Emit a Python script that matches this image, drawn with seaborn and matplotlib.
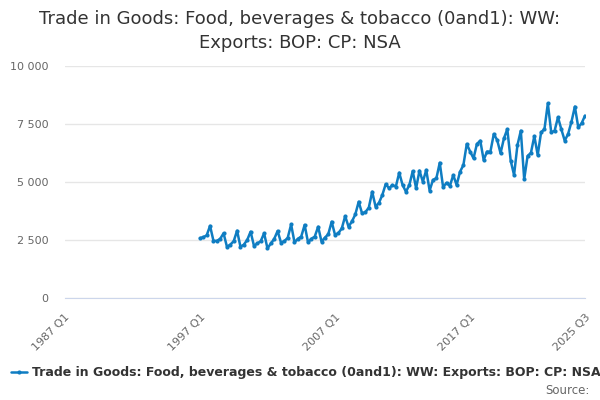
import pandas as pd
import matplotlib
matplotlib.use("Agg")
import matplotlib.pyplot as plt
import seaborn as sns

# quarterly values, 1997 Q1 .. 2025 Q3 (GBP million)
v1997 = [2580, 2620, 2700, 3110]
v1998 = [2470, 2460, 2550, 2790]
v1999 = [2210, 2300, 2450, 2900]
v2000 = [2210, 2300, 2500, 2860]
v2001 = [2250, 2350, 2450, 2790]
v2002 = [2140, 2350, 2550, 2890]
v2003 = [2390, 2450, 2600, 3170]
v2004 = [2400, 2550, 2650, 3150]
v2005 = [2400, 2550, 2650, 3070]
v2006 = [2430, 2600, 2750, 3290]
v2007 = [2720, 2800, 3000, 3530]
v2008 = [3070, 3300, 3600, 4150]
v2009 = [3650, 3700, 3900, 4580]
v2010 = [3940, 4100, 4440, 4910]
v2011 = [4730, 4870, 4800, 5400]
v2012 = [4870, 4580, 4870, 5470]
v2013 = [4730, 5490, 5010, 5520]
v2014 = [4630, 5090, 5160, 5830]
v2015 = [4770, 4970, 4830, 5300]
v2016 = [4870, 5440, 5730, 6640]
v2017 = [6310, 6020, 6640, 6780]
v2018 = [5950, 6310, 6310, 7070]
v2019 = [6810, 6240, 6880, 7280]
v2020 = [5920, 5300, 6590, 7210]
v2021 = [5120, 6120, 6260, 6980]
v2022 = [6160, 7140, 7280, 8390]
v2023 = [7140, 7210, 7790, 7270]
v2024 = [6780, 7070, 7600, 8250]
v2025 = [7360, 7530, 7860]

values = (v1997 + v1998 + v1999 + v2000 + v2001 + v2002 + v2003 + v2004 + v2005
          + v2006 + v2007 + v2008 + v2009 + v2010 + v2011 + v2012 + v2013 + v2014
          + v2015 + v2016 + v2017 + v2018 + v2019 + v2020 + v2021 + v2022 + v2023
          + v2024 + v2025)

series_name = "Trade in Goods: Food, beverages & tobacco (0and1): WW: Exports: BOP: CP: NSA"
title = "Trade in Goods: Food, beverages & tobacco (0and1): WW:\nExports: BOP: CP: NSA"

# quarter index relative to 1997 Q1
df = pd.DataFrame({"q": range(len(values)), "value": values, "series": series_name})

sns.set_style("white")
plt.rcParams["font.family"] = ["DejaVu Sans"]

fig = plt.figure(figsize=(6, 4), dpi=100)
ax = fig.add_axes([0.108, 0.255, 0.867, 0.58])

blue = "#0f7dc2"
sns.lineplot(data=df, x="q", y="value", hue="series", palette=[blue],
             marker="o", markersize=3, markeredgewidth=0, linewidth=1.8, ax=ax)

ax.set_xlim(-40, 114)
ax.set_ylim(0, 10000)

ax.set_yticks([0, 2500, 5000, 7500, 10000])
ax.set_yticklabels(["0", "2 500", "5 000", "7 500", "10 000"], color="#666666", fontsize=8)
ax.grid(axis="y", color="#e6e6e6", linewidth=1)
ax.tick_params(axis="y", length=0, pad=12)

xt = list(range(-40, 101, 10)) + [114]
xl = []
for t in xt:
    if t == 114:
        xl.append("2025 Q3")
    elif t % 40 == 0:
        xl.append(f"{1997 + t // 4} Q1")
    else:
        xl.append("")
ax.set_xticks(xt)
ax.set_xticklabels(xl, rotation=45, ha="right", rotation_mode="anchor",
                   color="#666666", fontsize=8)
ax.tick_params(axis="x", length=8, color="#ccd6eb", pad=2)

for s in ["top", "right", "left"]:
    ax.spines[s].set_visible(False)
ax.spines["bottom"].set_color("#ccd6eb")
ax.set_xlabel("")
ax.set_ylabel("")

ax.legend_.remove()
handles, labels = ax.get_legend_handles_labels()
fig.legend(handles, labels, loc="center", bbox_to_anchor=(0.51, 0.068), frameon=False,
           prop={"size": 9, "weight": "bold"}, labelcolor="#333333",
           handlelength=1.3, handletextpad=0.4)

fig.suptitle(title, y=0.975, fontsize=13, color="#333333", linespacing=1.45)
fig.text(0.982, 0.015, "Source:", ha="right", fontsize=8.5, color="#666666")

fig.savefig("out.png", dpi=100)
